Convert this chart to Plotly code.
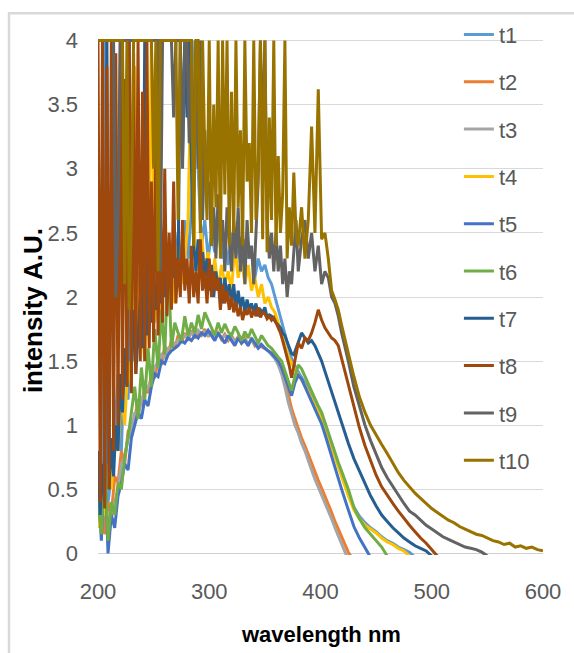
import plotly.graph_objects as go

# wavelength grids (nm)
wl_main = list(range(200, 420, 3))      # 200..419, 74 points (smooth series)
wl_fine = list(range(200, 380, 2))      # 200..378, 90 points (noisy series)
wl_mid = list(range(380, 420, 3))       # 380..419, 14 points
wl_tail = list(range(425, 601, 5))      # 425..600, 36 points
wavelength_coarse = wl_main + wl_tail
wavelength_fine = wl_fine + wl_mid + wl_tail

series_names = ["t1", "t2", "t3", "t4", "t5", "t6", "t7", "t8", "t9", "t10"]
series_colors = ["#5B9BD5", "#ED7D31", "#A5A5A5", "#FFC000", "#4472C4",
                 "#70AD47", "#255E91", "#9E480E", "#636363", "#997300"]

# ---- t1..t6 on the coarse grid (wl_main + wl_tail) ----
t1_main = [0.3, 0.5, 4, 0.4, 0.6, 0.9, 1.4, 0.8, 1.6, 1.2,
           1.9, 1.5, 2.2, 1.7, 2.0, 1.8, 2.4, 1.9, 2.2, 2.0,
           2.6, 2.1, 2.3, 2.2, 2.5, 2.2, 2.6, 2.3, 2.7, 4,
           3.0, 2.4, 2.6, 2.3, 2.5, 2.35, 2.55, 2.3, 2.45, 2.25,
           2.5, 2.3, 2.4, 2.2, 2.45, 2.3, 2.35, 2.15, 2.3, 2.2,
           2.25, 2.15, 2.1, 2.0, 1.9, 1.8, 1.7, 1.6, 1.52, 1.46,
           1.42, 1.38, 1.33, 1.28, 1.22, 1.17, 1.12, 1.07, 1.0, 0.93,
           0.85, 0.77, 0.7, 0.62]
t1_tail = [0.47, 0.36, 0.29, 0.24, 0.2, 0.17, 0.13, 0.1, 0.08, 0.05,
           0.03, 0.01, -0.03]

t2_main = [0.2, 0.5, 0.15, 0.4, 0.3, 0.6, 0.55, 0.8, 0.7, 0.95,
           1.0, 1.05, 1.2, 1.15, 1.3, 1.25, 1.4, 1.38, 1.5, 1.47,
           1.62, 1.55, 1.66, 1.6, 1.7, 1.64, 1.72, 1.66, 1.74, 1.68,
           1.72, 1.7, 1.75, 1.69, 1.73, 1.68, 1.72, 1.67, 1.71, 1.66,
           1.7, 1.65, 1.69, 1.64, 1.68, 1.63, 1.67, 1.62, 1.65, 1.61,
           1.6, 1.58, 1.56, 1.53, 1.49, 1.43, 1.35, 1.24, 1.13, 1.05,
           0.97, 0.9, 0.84, 0.77, 0.7, 0.63, 0.57, 0.51, 0.45, 0.38,
           0.32, 0.25, 0.19, 0.12]
t2_tail = [0.01, -0.06]

t3_main = [0.4, 0.2, 0.5, 0.1, 0.35, 0.4, 0.5, 0.7, 0.75, 0.9,
           0.95, 1.1, 1.05, 1.2, 1.25, 1.3, 1.35, 1.45, 1.5, 1.55,
           1.52, 1.6, 1.62, 1.64, 1.66, 1.68, 1.7, 1.68, 1.72, 1.7,
           1.74, 1.71, 1.73, 1.7, 1.72, 1.69, 1.71, 1.68, 1.7, 1.67,
           1.69, 1.66, 1.68, 1.65, 1.67, 1.64, 1.66, 1.63, 1.64, 1.62,
           1.6, 1.58, 1.55, 1.52, 1.47, 1.4, 1.3, 1.18, 1.09, 1.0,
           0.94, 0.86, 0.8, 0.72, 0.65, 0.58, 0.52, 0.46, 0.4, 0.33,
           0.27, 0.2, 0.14, 0.07]
t3_tail = [-0.05]

t4_main = [0.2, 0.6, 0.3, 0.7, 0.5, 0.9, 0.8, 1.3, 1.0, 1.5,
           1.3, 3.8, 1.6, 1.8, 1.5, 2.0, 4, 1.8, 2.1, 1.9,
           2.3, 2.0, 2.2, 1.95, 2.4, 2.1, 2.3, 2.6, 4, 2.4,
           2.2, 2.5, 2.2, 2.35, 2.1, 2.3, 2.05, 2.25, 2.1, 2.2,
           2.05, 2.4, 2.15, 2.3, 2.1, 2.25, 2.05, 2.15, 2.0, 2.1,
           1.95, 2.0, 1.92, 1.88, 1.8, 1.72, 1.62, 1.54, 1.48, 1.44,
           1.4, 1.36, 1.31, 1.26, 1.2, 1.15, 1.1, 1.05, 0.98, 0.91,
           0.83, 0.75, 0.68, 0.6]
t4_tail = [0.45, 0.34, 0.27, 0.22, 0.19, 0.16, 0.12, 0.09, 0.07, 0.04,
           0.02, -0.02]

t5_main = [0.6, 0.1, 0.8, 0.0, 0.3, 0.2, 0.45, 0.55, 0.7, 0.65,
           0.9, 1.0, 1.1, 1.05, 1.2, 1.15, 1.3, 1.4, 1.38, 1.5,
           1.48, 1.55, 1.58, 1.6, 1.62, 1.66, 1.64, 1.68, 1.66, 1.7,
           1.68, 1.72, 1.7, 1.74, 1.7, 1.66, 1.72, 1.68, 1.64, 1.7,
           1.66, 1.62, 1.68, 1.64, 1.66, 1.62, 1.68, 1.64, 1.6, 1.63,
           1.6, 1.58, 1.56, 1.53, 1.5, 1.45, 1.38, 1.3, 1.23, 1.33,
           1.39, 1.36, 1.3, 1.24, 1.18, 1.12, 1.07, 1.01, 0.93, 0.84,
           0.75, 0.66, 0.58, 0.5]
t5_tail = [0.34, 0.21, 0.12, 0.04, -0.03]

t6_main = [0.45, 0.15, 0.7, 0.1, 0.4, 0.3, 0.55, 0.5, 0.75, 0.9,
           1.1, 1.3, 1.05, 1.45, 1.2, 1.6, 1.3, 1.75, 1.45, 1.9,
           1.55, 2.3, 1.6, 1.8, 1.72, 1.66, 1.85, 1.7, 1.8, 1.72,
           1.86, 1.75, 1.88, 1.82, 1.76, 1.7, 1.8, 1.72, 1.79, 1.73,
           1.7, 1.77, 1.72, 1.66, 1.73, 1.68, 1.75, 1.7, 1.64, 1.7,
           1.66, 1.62, 1.6, 1.56, 1.53, 1.5, 1.42, 1.34, 1.27, 1.38,
           1.47, 1.44, 1.38, 1.32, 1.26, 1.2, 1.15, 1.1, 1.02, 0.94,
           0.86, 0.79, 0.71, 0.64]
t6_tail = [0.5, 0.36, 0.27, 0.2, 0.15, 0.1, 0.05, -0.02]

# ---- t7..t10 on the fine grid (wl_fine + wl_mid + wl_tail) ----
t7_fine = [0.8, 0.3, 0.7, 0.4, 4, 0.5, 0.9, 0.6, 1.0, 0.8,
           1.4, 1.1, 1.6, 1.3, 4, 1.5, 1.9, 1.4, 1.7, 2.0,
           1.6, 4, 1.7, 2.0, 1.8, 2.2, 1.9, 2.1, 1.95, 2.3,
           2.0, 2.3, 2.1, 2.4, 2.15, 2.3, 2.2, 4, 3.1, 4,
           3.4, 4, 3.0, 2.4, 2.2, 2.45, 2.2, 2.35, 2.15, 2.3,
           2.05, 2.25, 2.0, 2.2, 2.05, 2.15, 1.95, 2.15, 2.0, 2.1,
           1.95, 2.1, 1.9, 2.05, 1.92, 2.0, 1.88, 1.98, 1.9, 1.95,
           1.88, 1.95, 1.85, 1.9, 1.88, 1.92, 1.84, 1.86, 1.85, 1.82,
           1.8, 1.78, 1.76, 1.72, 1.7, 1.65, 1.6, 1.56, 1.55, 1.6]
t7_mid = [1.66, 1.72, 1.68, 1.64, 1.66, 1.62, 1.56, 1.5, 1.42, 1.34,
          1.26, 1.17, 1.09, 1.01]
t7_tail = [0.86, 0.74, 0.64, 0.54, 0.45, 0.37, 0.3, 0.25, 0.2, 0.16,
           0.12, 0.09, 0.06, 0.04, 0.02, -0.02]

t8_fine = [4, 0.4, 4, 0.35, 3.8, 0.5, 4, 0.8, 3.9, 1.0,
           4, 1.2, 3.7, 1.3, 4, 1.25, 3.9, 1.4, 4, 1.5,
           3.6, 1.5, 4, 1.6, 2.9, 1.65, 3.3, 1.7, 2.7, 1.8,
           3.0, 1.85, 2.5, 1.9, 2.9, 1.95, 2.3, 2.0, 2.6, 2.05,
           2.3, 1.95, 2.4, 2.0, 2.2, 1.95, 2.45, 2.05, 2.2, 1.95,
           2.3, 2.0, 2.2, 2.05, 2.15, 1.9, 2.1, 1.95, 2.05, 1.9,
           2.0, 1.88, 1.96, 1.85, 1.92, 1.82, 1.9, 1.86, 1.92, 1.84,
           1.9, 1.85, 1.92, 1.84, 1.88, 1.87, 1.83, 1.85, 1.82, 1.84,
           1.8, 1.76, 1.72, 1.66, 1.6, 1.52, 1.46, 1.37, 1.45, 1.55]
t8_mid = [1.64, 1.6, 1.68, 1.66, 1.72, 1.8, 1.9, 1.82, 1.76, 1.72,
          1.68, 1.66, 1.62, 1.52]
t8_tail = [1.32, 1.15, 0.98, 0.84, 0.72, 0.61, 0.52, 0.45, 0.39, 0.33,
           0.27, 0.22, 0.17, 0.12, 0.08, 0.03, -0.02]

t9_fine = [4, 4, 4, 4, 4, 4, 4, 4, 2.0, 2.6,
           4, 4, 4, 4, 4, 4, 4, 4, 4, 4,
           4, 4, 4, 4, 4, 4, 4, 4, 2.2, 4,
           4, 4, 4, 4, 3.4, 4, 4, 4, 3.0, 4,
           4, 3.2, 4, 2.8, 4, 3.0, 4, 2.6, 3.3, 2.8,
           2.9, 2.4, 2.7, 2.3, 2.8, 2.5, 2.6, 2.2, 2.7, 2.4,
           2.2, 2.6, 2.3, 2.7, 2.2, 2.5, 2.1, 2.6, 2.3, 2.4,
           2.1, 2.5, 2.9, 4, 3.2, 4, 2.6, 2.3, 2.5, 2.2,
           2.5, 2.2, 2.4, 2.1, 2.3, 2.0, 2.2, 2.1, 2.4, 2.6]
t9_mid = [2.2, 2.45, 2.6, 2.3, 2.5, 2.2, 2.4, 2.1, 2.2, 2.15,
          2.0, 1.95, 1.85, 1.72]
t9_tail = [1.5, 1.3, 1.15, 1.0, 0.88, 0.77, 0.67, 0.59, 0.52, 0.45,
           0.39, 0.33, 0.3, 0.26, 0.22, 0.19, 0.16, 0.13, 0.11, 0.09,
           0.07, 0.05, 0.04, 0.03, 0.01, -0.02]

t10_fine = [4, 4, 4, 4, 4, 4, 4, 4, 4, 4,
            4, 4, 2.1, 4, 1.9, 2.6, 4, 4, 4, 4,
            4, 4, 4, 4, 4, 3.0, 4, 2.2, 4, 4,
            4, 4, 4, 4, 4, 4, 2.6, 4, 4, 4,
            4, 4, 4, 2.4, 4, 4, 2.5, 4, 3.1, 2.6,
            4, 2.4, 3.5, 2.7, 4, 2.3, 4, 2.8, 4, 2.4,
            3.6, 2.5, 4, 2.7, 3.3, 2.4, 4, 2.9, 3.2, 2.5,
            4, 2.6, 3.0, 4, 2.45, 4, 2.35, 3.4, 2.6, 4,
            2.4, 3.1, 2.5, 2.8, 4, 2.3, 2.7, 2.4, 2.97, 2.5]
t10_mid = [2.4, 2.7, 2.3, 2.6, 3.33, 2.5, 3.62, 2.45, 2.5, 2.3,
           2.05, 1.98, 1.9, 1.78]
t10_tail = [1.56, 1.38, 1.22, 1.1, 1.0, 0.92, 0.85, 0.78, 0.7, 0.63,
            0.57, 0.52, 0.47, 0.43, 0.39, 0.35, 0.32, 0.29, 0.26, 0.24,
            0.21, 0.19, 0.17, 0.15, 0.14, 0.12, 0.1, 0.09, 0.07, 0.08,
            0.05, 0.06, 0.04, 0.05, 0.03, 0.02]

y_ticks = [0, 0.5, 1, 1.5, 2, 2.5, 3, 3.5, 4]
y_ticktext = ["0", "0.5", "1", "1.5", "2", "2.5", "3", "3.5", "4"]
x_ticks = [200, 300, 400, 500, 600]


def pad_tail(tail):
    return tail + [None] * (len(wl_tail) - len(tail))


def coarse(main, tail):
    assert len(main) == len(wl_main), len(main)
    return main + pad_tail(tail)


def fine(f, mid, tail):
    assert len(f) == len(wl_fine), len(f)
    assert len(mid) == len(wl_mid), len(mid)
    return f + mid + pad_tail(tail)


series_x = [wavelength_coarse] * 6 + [wavelength_fine] * 4
series_values = [coarse(t1_main, t1_tail), coarse(t2_main, t2_tail),
                 coarse(t3_main, t3_tail), coarse(t4_main, t4_tail),
                 coarse(t5_main, t5_tail), coarse(t6_main, t6_tail),
                 fine(t7_fine, t7_mid, t7_tail), fine(t8_fine, t8_mid, t8_tail),
                 fine(t9_fine, t9_mid, t9_tail), fine(t10_fine, t10_mid, t10_tail)]

FONT = "Liberation Sans, Arial, sans-serif"

fig = go.Figure()
for name, color, xs, vals in zip(series_names, series_colors, series_x, series_values):
    fig.add_trace(go.Scatter(x=xs, y=vals, mode="lines", name=name,
                             legendgroup=name,
                             line=dict(color=color, width=3),
                             connectgaps=False))

fig.update_layout(
    width=574, height=653,
    margin=dict(l=98, r=31, t=39.46, b=98.46, autoexpand=False),
    paper_bgcolor="white", plot_bgcolor="white",
    font=dict(family=FONT, color="#595959", size=22),
    showlegend=True,
    legend=dict(x=0.811, xanchor="left", y=1.049, yanchor="top",
                bgcolor="rgba(0,0,0,0)", borderwidth=0, maxheight=640,
                font=dict(family=FONT, size=22, color="#595959"),
                tracegroupgap=15.7, itemwidth=30),
    xaxis=dict(range=[200, 600], tickvals=x_ticks, showgrid=False, zeroline=False,
               showline=False, ticks="", ticklabelstandoff=21,
               tickfont=dict(family=FONT, size=22, color="#595959")),
    yaxis=dict(range=[-0.012, 4.012], tickvals=y_ticks, ticktext=y_ticktext,
               showgrid=True, gridcolor="#d9d9d9", gridwidth=1,
               zeroline=True, zerolinecolor="#d0d0d0", zerolinewidth=1,
               showline=False, ticks="", ticklabelstandoff=19,
               tickfont=dict(family=FONT, size=22, color="#595959")),
    shapes=[dict(type="rect", xref="paper", yref="paper",
                 x0=-0.2, x1=1.2, y0=-0.3, y1=1.0498,
                 line=dict(color="#d9d9d9", width=2.5), fillcolor="rgba(0,0,0,0)")],
    annotations=[
        dict(text="wavelength nm", xref="paper", yref="paper", x=0.5, y=-0.155,
             xanchor="center", yanchor="middle", showarrow=False,
             font=dict(family=FONT, size=22, color="black", weight="bold")),
        dict(text="intensity A.U.", xref="paper", yref="paper", x=-0.146, y=0.4727,
             xanchor="center", yanchor="middle", showarrow=False, textangle=-90,
             font=dict(family=FONT, size=26, color="black", weight="bold")),
    ],
)

fig.write_html("out.html")
